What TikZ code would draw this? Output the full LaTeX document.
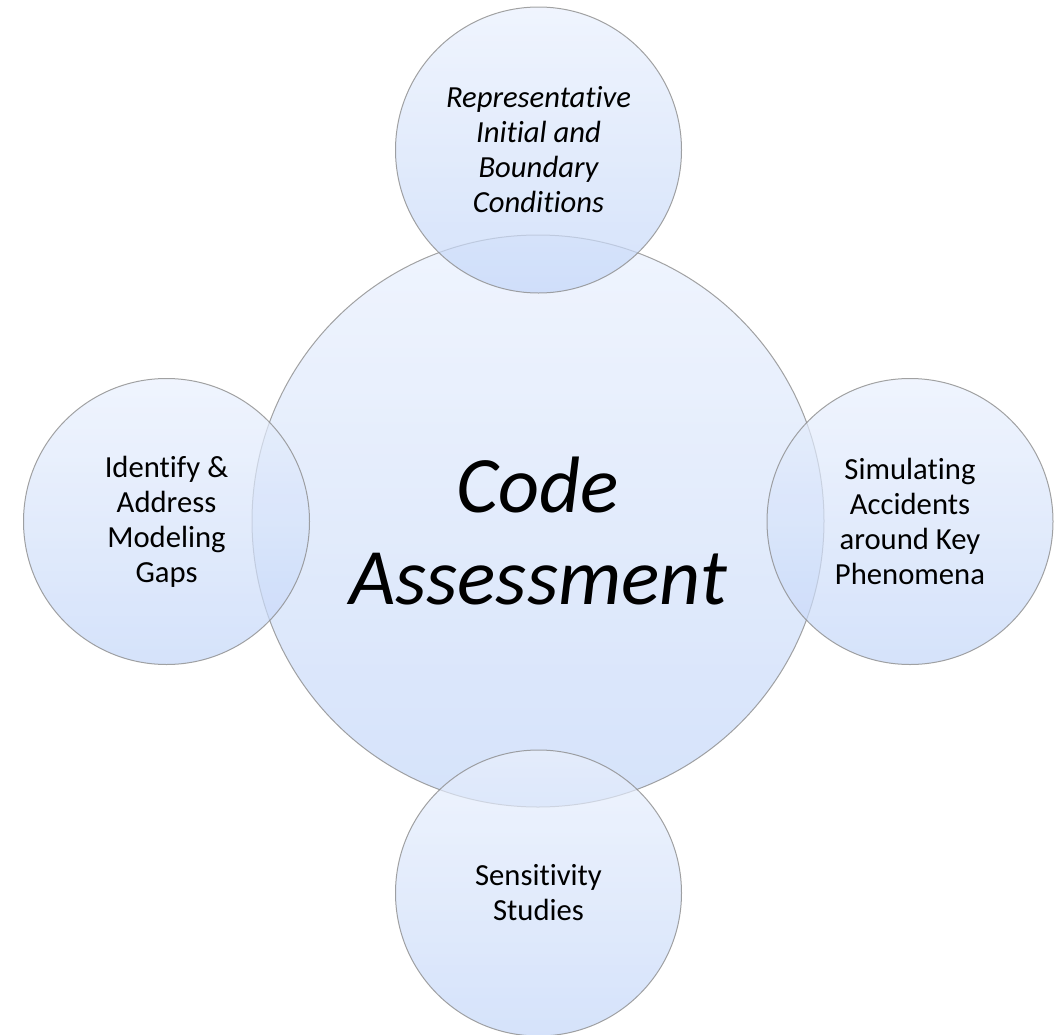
\documentclass[tikz,border=0pt]{standalone}
\usepackage{fontspec}
\setmainfont{Carlito}[Ligatures=NoCommon]
\begin{document}
\begin{tikzpicture}[x=0.75pt,y=-0.75pt,
  bubble/.style={circle, inner sep=0pt, outer sep=0pt, draw=black!45, line width=0.75pt,
    top color=bubtop, bottom color=bubbot, fill opacity=0.7, draw opacity=0.8},
  small/.style={bubble, minimum size=214.5pt},
  big/.style={bubble, minimum size=429pt},
  smalltext/.style={align=center, inner sep=0pt, font=\fontsize{23pt}{26.25pt}\selectfont},
  bigtext/.style={align=center, inner sep=0pt, font=\fontsize{60pt}{69pt}\selectfont\itshape}]
\definecolor{bubtop}{RGB}{233,240,253}
\definecolor{bubbot}{RGB}{195,214,248}
\useasboundingbox (0,0) rectangle (1064,1035);
\node[big] (center) at (538,521) {};
\node[small] (top) at (538.5,150) {};
\node[small] (left) at (166.5,521.5) {};
\node[small] (right) at (910,521.5) {};
\node[small] (bottom) at (538.5,893) {};
\node[bigtext] (centertext) at ([yshift=-7.5pt]center.center) {Code\\Assessment};
\node[smalltext, font=\fontsize{23pt}{26.25pt}\selectfont\itshape] (toptext) at (top.center) {Representative\\Initial and\\Boundary\\Conditions};
\node[smalltext] (lefttext) at (left.center) {Identify \&\\Address\\Modeling\\Gaps};
\node[smalltext] (righttext) at (right.center) {Simulating\\Accidents\\around Key\\Phenomena};
\node[smalltext] (bottomtext) at (bottom.center) {Sensitivity\\Studies};
\end{tikzpicture}
\end{document}
